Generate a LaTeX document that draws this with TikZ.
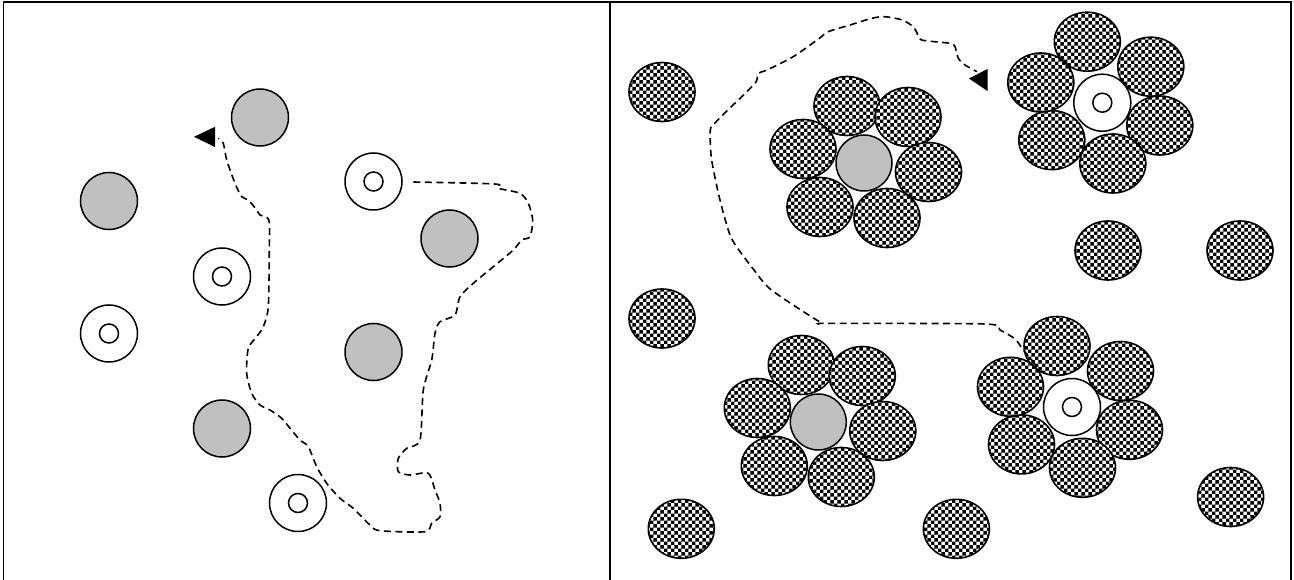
\documentclass[tikz,border=0pt]{standalone}
\usetikzlibrary{patterns,shapes.geometric}
\pgfdeclarepatternformonly{chk}{\pgfpointorigin}{\pgfqpoint{7.4pt}{7.4pt}}{\pgfqpoint{7.4pt}{7.4pt}}{%
  \pgfpathrectangle{\pgfpointorigin}{\pgfqpoint{3.7pt}{3.7pt}}%
  \pgfpathrectangle{\pgfqpoint{3.7pt}{3.7pt}}{\pgfqpoint{3.7pt}{3.7pt}}%
  \pgfusepath{fill}}
\definecolor{ballgray}{RGB}{192,192,192}
\tikzset{
  graycirc/.style={circle, draw, line width=1.5pt, fill=ballgray, minimum size=57pt, inner sep=0pt},
  ringcirc/.style={circle, draw, line width=1.5pt, fill=white, minimum size=57pt, inner sep=0pt},
  holecirc/.style={circle, draw, line width=1.5pt, fill=white, minimum size=19pt, inner sep=0pt},
  chkell/.style={ellipse, draw, line width=1.6pt, preaction={fill=white}, pattern=chk, minimum width=66pt, minimum height=59pt, inner sep=0pt},
  walk/.style={line width=1.6pt, dash pattern=on 7pt off 4.5pt},
  tip/.style={fill=black},
  frame/.style={line width=1.6pt}
}
\begin{document}
\begin{tikzpicture}[x=1pt,y=-1pt]
\useasboundingbox (0,0) rectangle (1294,580);
% frame
\draw[frame] (3.5,580) -- (3.5,2) -- (1291,2) -- (1291,580);
\draw[frame] (610,2) -- (610,580);

% ---------------- left panel ----------------
\node[graycirc] (g1) at (260,117.5) {};
\node[graycirc] (g2) at (109,201) {};
\node[graycirc] (g3) at (449.5,238.5) {};
\node[graycirc] (g4) at (373.5,352) {};
\node[graycirc] (g5) at (222,428.5) {};
\node[ringcirc] (r1) at (373.5,181.5) {}; \node[holecirc] (h1) at (r1) {};
\node[ringcirc] (r2) at (222,276.5) {};   \node[holecirc] (h2) at (r2) {};
\node[ringcirc] (r3) at (109,333.5) {};   \node[holecirc] (h3) at (r3) {};
\node[ringcirc] (r4) at (298,503) {};     \node[holecirc] (h4) at (r4) {};

\draw[walk] plot[smooth,tension=0.45] coordinates {
(413.3,182) (495,184) (498.3,188.3) (520,193.3) (528.3,203.3) (532.7,220) (530,236.7)
(521.7,240) (513.3,250) (493.3,266.7) (473.3,283.3) (460,296.7) (455,315) (440,321.7)
(435,333.3) (431.7,360) (423.3,390) (420,440) (406.7,448.3) (398.3,458.3) (398.3,471.7)
(410,475) (428.3,473.3) (435,490) (440,503.3) (440,516.7) (431.7,523.3) (425,531.7)
(380,530.7) (370,525) (353.3,508.3) (340,498.3) (326.7,483.3) (316.7,466.7) (308.3,446.7)
(300,440) (290,428.3) (281.7,418.3) (270,410) (260,405) (251.7,393.3) (246.7,373.3)
(248.3,348.3) (256.7,336.7) (263.3,326.7) (268.3,306.7) (269.3,250) (269.3,221.7)
(265,216.7) (260,215) (256.7,210) (248.3,200) (241.7,196.7) (235,183.3) (226.7,160)
(223.3,143.3) (218.3,138.3)};
\fill[tip] (194,136.8) -- (215,126.8) -- (215,147) -- cycle;

% ---------------- right panel ----------------
% lone ellipses
\node[chkell] (s1) at (662,92) {};
\node[chkell] (s2) at (662,318.5) {};
\node[chkell] (s3) at (1108,250.5) {};
\node[chkell] (s4) at (1240,250.5) {};
\node[chkell] (s5) at (681.3,528.8) {};
\node[chkell] (s6) at (956.4,528.8) {};
\node[chkell] (s7) at (1230.6,497) {};

% cluster A (gray centre)
\begin{scope}[shift={(864,163)}]
  \node[graycirc, minimum size=56pt] (ca) at (0,0) {};
  \foreach \dx/\dy [count=\i] in {-17/-57, 44/-46, 64.5/9, 23/55, -44/44, -61/-14}
    \node[chkell] (ca\i) at (\dx,\dy) {};
\end{scope}
% cluster C (gray centre)
\begin{scope}[shift={(818.3,422)}]
  \node[graycirc, minimum size=56pt] (cc) at (0,0) {};
  \foreach \dx/\dy [count=\i] in {-17/-57, 44/-46, 64.5/9, 23/55, -44/44, -61/-14}
    \node[chkell] (cc\i) at (\dx,\dy) {};
\end{scope}
% cluster B (ring centre)
\begin{scope}[shift={(1102.3,102.7)}]
  \node[ringcirc] (cb) at (0,0) {}; \node[holecirc] (cbh) at (cb) {};
  \foreach \dx/\dy [count=\i] in {-15/-61, 48.5/-36, 57.5/22.8, 10.5/60.8, -50.5/37.4, -61.5/-20.2}
    \node[chkell] (cb\i) at (\dx,\dy) {};
\end{scope}
% cluster D (ring centre)
\begin{scope}[shift={(1072,407)}]
  \node[ringcirc] (cd) at (0,0) {}; \node[holecirc] (cdh) at (cd) {};
  \foreach \dx/\dy [count=\i] in {-15/-61, 48.5/-36, 57.5/22.8, 10.5/60.8, -50.5/37.4, -61.5/-20.2}
    \node[chkell] (cd\i) at (\dx,\dy) {};
\end{scope}

\draw[walk] plot[smooth,tension=0.45] coordinates {
(1035,365) (1031.7,360) (1023.3,350) (1015,339) (1000,330) (985,324) (828,323.3)
(819.4,321.7) (771.4,290) (754,270) (736.5,246.7) (730,235) (723.4,213.3) (716.9,186.7)
(711.2,156.7) (710.3,130) (714.7,123.3) (727.8,110) (745.3,93.3) (756.2,81.7) (758.3,73.3)
(767,70) (793.2,56.7) (819.4,38.3) (828.2,31.7) (850,25) (871.8,18.3) (884.9,16.7)
(902.3,20) (913.2,26.7) (917,33) (921.7,40) (950,43.3) (955,46.7) (958.3,58.3) (965,65)
(977,71.7)};
\fill[tip] (969,78.5) -- (987.5,69) -- (987.5,91) -- cycle;
\end{tikzpicture}
\end{document}
